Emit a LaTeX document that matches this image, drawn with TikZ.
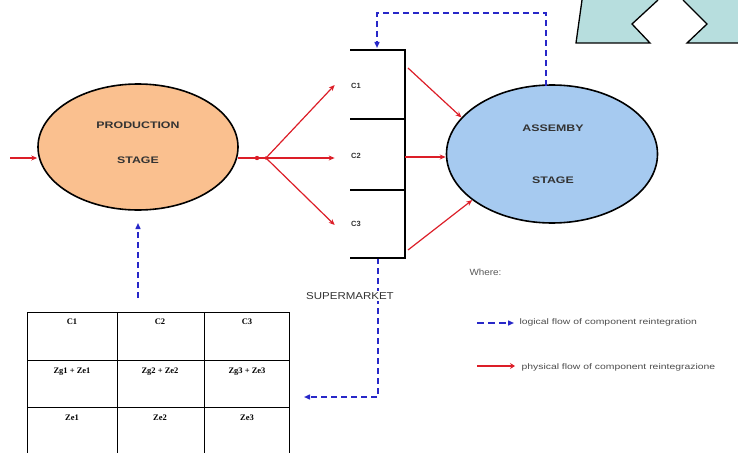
\documentclass[tikz,border=0pt]{standalone}
\usepackage{fontspec}
\usepackage{graphicx}
\setmainfont{Liberation Sans}
\newfontfamily\tabfont{Liberation Serif}
\usetikzlibrary{shapes.geometric,arrows.meta}

\definecolor{peach}{RGB}{250,192,143}
\definecolor{skyfill}{RGB}{166,202,240}
\definecolor{tealfill}{RGB}{183,222,222}
\definecolor{physred}{RGB}{220,30,40}
\definecolor{logicblue}{RGB}{40,40,200}

% stretch a text sideways
\newcommand{\wide}[2]{\scalebox{#1}[1]{#2}}

\begin{document}
\begin{tikzpicture}[x=1pt,y=-1pt,
    stage/.style={ellipse,draw=black,line width=1.6pt,inner sep=0pt},
    phys/.style={physred,line width=1.2pt,-{Stealth[length=6pt,width=5pt]}},
    logic/.style={logicblue,line width=1.4pt,dash pattern=on 6pt off 4pt,-{Triangle[length=6pt,width=5pt]}},
    shelf/.style={line width=1.6pt},
    lbl/.style={font=\bfseries\fontsize{9.5}{10}\selectfont,text=black!80},
    cell/.style={font=\tabfont\bfseries\fontsize{8.5}{9}\selectfont,anchor=north},
    legend/.style={font=\fontsize{8}{9}\selectfont,text=black!70,anchor=west},
  ]
    \useasboundingbox (0,0) rectangle (738,452);
    \clip (0,0) rectangle (738,452);

    % Define the coordinates of the stages and the supermarket
    \coordinate (prodIn) at (10,158);
    \coordinate (prodOut) at (238,158);
    \coordinate (dotA) at (257,158);
    \coordinate (split) at (266,158);

    \coordinate (shelfTL) at (350,50);
    \coordinate (shelfTR) at (405,50);
    \coordinate (shelfBL) at (350,258);
    \coordinate (shelfBR) at (405,258);
    \coordinate (div1L) at (350,119);
    \coordinate (div1R) at (405,119);
    \coordinate (div2L) at (350,190);
    \coordinate (div2R) at (405,190);

    \coordinate (out1) at (408,68);
    \coordinate (out2) at (405,157);
    \coordinate (out3) at (408,250);

    % Coordinates of the logical flow
    \coordinate (asmTop) at (546,86);
    \coordinate (topTurn) at (546,13);
    \coordinate (shelfIn) at (377,48);
    \coordinate (shelfOut) at (378,258);
    \coordinate (tabIn) at (304,397);
    \coordinate (tabOut) at (138,298);
    \coordinate (prodBot) at (138,223);

    % Coordinates of the table
    \coordinate (tab0) at (27,312);
    \coordinate (tab1) at (117,312);
    \coordinate (tab2) at (204,312);
    \coordinate (tab3) at (289,312);

    % Corner shape at the top right
    \fill[tealfill] (582,0) -- (576,43) -- (650,43) -- (632,24) -- (658,0) -- cycle;
    \fill[tealfill] (683,0) -- (707,24) -- (687,43) -- (738,43) -- (738,0) -- cycle;
    \draw[line width=1.3pt] (582,0) -- (576,43) -- (650,43) -- (632,24) -- (658,0);
    \draw[line width=1.3pt] (683,0) -- (707,24) -- (687,43) -- (738,43);

    % Draw the stages
    \node[stage,fill=peach,minimum width=200pt,minimum height=126pt] (prod) at (138,147) {};
    \node[stage,fill=skyfill,minimum width=211pt,minimum height=138pt] (asm) at (552,154) {};

    \node[lbl] (prodT1) at (138,125) {\wide{1.3}{PRODUCTION}};
    \node[lbl] (prodT2) at (138,160) {\wide{1.3}{STAGE}};
    \node[lbl] (asmT1) at (553,128) {\wide{1.3}{ASSEMBY}};
    \node[lbl] (asmT2) at (553,180) {\wide{1.3}{STAGE}};

    % Logical flow
    \draw[logic] (asmTop) -- (topTurn) -| (shelfIn);
    \draw[logic] (shelfOut) |- (tabIn);
    \draw[logic] (tabOut) -- (prodBot);

    % Draw the supermarket
    \draw[shelf] (shelfTL) -- (shelfTR) -- (shelfBR) -- (shelfBL);
    \draw[shelf] (div1L) -- (div1R);
    \draw[shelf] (div2L) -- (div2R);

    \node[lbl,font=\bfseries\fontsize{7.5}{8}\selectfont] (s1) at (356,86) {C1};
    \node[lbl,font=\bfseries\fontsize{7.5}{8}\selectfont] (s2) at (356,156) {C2};
    \node[lbl,font=\bfseries\fontsize{7.5}{8}\selectfont] (s3) at (356,224) {C3};
    \node[fill=white,inner sep=1pt,font=\fontsize{10}{11}\selectfont,text=black!80] (smName) at (350,296) {\wide{1.15}{SUPERMARKET}};

    % Physical flow
    \draw[phys] (prodIn) -- (prodIn -| prod.west);
    \draw[physred,line width=1.2pt] (prodOut) -- (split);
    \fill[physred] (dotA) circle (2.2pt);
    \fill[physred] (split) circle (1.8pt);
    \draw[phys] (split) -- ([xshift=-13pt,yshift=1pt]s1.west);
    \draw[phys] (split) -- ([xshift=-13pt]s2.west |- split);
    \draw[phys] (split) -- ([xshift=-13pt,yshift=-1pt]s3.west);

    \draw[phys] (out1) -- (asm.158);
    \draw[phys] (out2) -- (out2 -| asm.west);
    \draw[phys] (out3) -- (asm.210);

    % Draw the table
    \draw[line width=0.8pt] (tab0) -- (tab3);
    \draw[line width=0.8pt] (27,360) -- (289,360);
    \draw[line width=0.8pt] (27,407) -- (289,407);
    \draw[line width=0.8pt] (tab0) -- (27,460);
    \draw[line width=0.8pt] (tab1) -- (117,460);
    \draw[line width=0.8pt] (tab2) -- (204,460);
    \draw[line width=0.8pt] (tab3) -- (289,460);

    \node[cell] (h1) at (72,315) {C1};
    \node[cell] (h2) at (160,315) {C2};
    \node[cell] (h3) at (247,315) {C3};
    \node[cell] (z1) at (72,364) {Zg1 + Ze1};
    \node[cell] (z2) at (160,364) {Zg2 + Ze2};
    \node[cell] (z3) at (247,364) {Zg3 + Ze3};
    \node[cell] (e1) at (72,411) {Ze1};
    \node[cell] (e2) at (160,411) {Ze2};
    \node[cell] (e3) at (247,411) {Ze3};

    % Legend
    \node[anchor=west,font=\fontsize{9}{10}\selectfont,text=black!65] (where) at (466,272) {\wide{1.1}{Where:}};
    \coordinate (legL1) at (477,323);
    \coordinate (legR1) at (514,323);
    \coordinate (legL2) at (477,366);
    \coordinate (legR2) at (515,366);
    \draw[logic,dash pattern=on 7pt off 4pt] (legL1) -- (legR1);
    \draw[phys,line width=2pt,-{Stealth[length=5pt,width=6pt]}] (legL2) -- (legR2);
    \node[legend] (leg1) at (516,322) {\wide{1.3}{logical flow of component reintegration}};
    \node[legend] (leg2) at (518,367) {\wide{1.3}{physical flow of component reintegrazione}};

\end{tikzpicture}
\end{document}
